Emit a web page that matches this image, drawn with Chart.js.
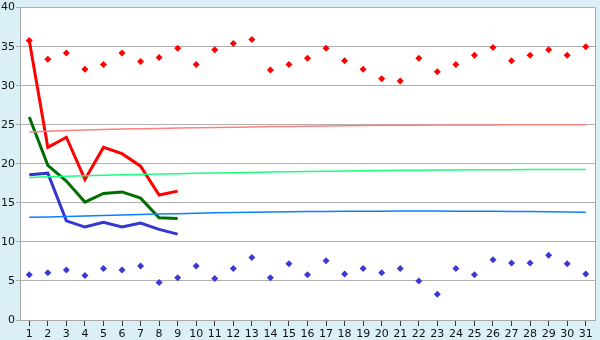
<!DOCTYPE html>
<html>
<head>
<meta charset="utf-8">
<script src="https://cdn.jsdelivr.net/npm/chart.js@4.4.1/dist/chart.umd.min.js"></script>
<style>
  html, body { margin: 0; padding: 0; background: #daeff6; }
  #wrap { width: 600px; height: 340px; }
</style>
</head>
<body>
<div id="wrap"><canvas id="chart" width="600" height="340"></canvas></div>
<script>
// categorias (dias)
const days = ["1","2","3","4","5","6","7","8","9","10","11","12","13","14","15","16",
  "17","18","19","20","21","22","23","24","25","26","27","28","29","30","31"];

// pontos soltos (máximos e mínimos)
const highPoints = [35.8, 33.4, 34.2, 32.1, 32.7, 34.2, 33.1, 33.6, 34.8, 32.7,
  34.6, 35.4, 35.9, 32.0, 32.7, 33.5, 34.8, 33.2, 32.1, 30.9,
  30.6, 33.5, 31.8, 32.7, 33.9, 34.9, 33.2, 33.9, 34.6, 33.9, 35.0];
const lowPoints = [5.8, 6.05, 6.4, 5.7, 6.6, 6.4, 6.9, 4.8, 5.4, 6.9,
  5.3, 6.6, 8.0, 5.4, 7.2, 5.8, 7.6, 5.9, 6.6, 6.05,
  6.6, 5.0, 3.3, 6.6, 5.8, 7.7, 7.3, 7.3, 8.3, 7.2, 5.9];

// linhas grossas (só os primeiros 9 dias)
const redLine = [35.8, 22.1, 23.4, 18.0, 22.1, 21.3, 19.7, 16.0, 16.5];
const greenLine = [26.0, 19.8, 17.8, 15.1, 16.2, 16.4, 15.6, 13.1, 13.0];
const blueLine = [18.6, 18.8, 12.7, 11.9, 12.5, 11.9, 12.4, 11.6, 11.0];

// linhas finas de tendência
const redTrend = [24.08, 24.18, 24.26, 24.33, 24.39, 24.44, 24.49, 24.53, 24.57, 24.61,
  24.65, 24.69, 24.72, 24.76, 24.79, 24.82, 24.85, 24.88, 24.9, 24.92,
  24.94, 24.95, 24.96, 24.97, 24.98, 24.98, 24.99, 24.99, 24.99, 25.0, 25.0];
const greenTrend = [18.25, 18.35, 18.42, 18.48, 18.54, 18.59, 18.64, 18.69, 18.73, 18.78,
  18.82, 18.86, 18.9, 18.94, 18.98, 19.01, 19.04, 19.07, 19.1, 19.13,
  19.16, 19.18, 19.2, 19.22, 19.23, 19.24, 19.25, 19.26, 19.26, 19.27, 19.27];
const blueTrend = [13.17, 13.2, 13.26, 13.32, 13.38, 13.44, 13.5, 13.56, 13.62, 13.67,
  13.72, 13.76, 13.8, 13.83, 13.86, 13.88, 13.9, 13.92, 13.93, 13.94,
  13.95, 13.95, 13.95, 13.94, 13.93, 13.92, 13.9, 13.88, 13.86, 13.83, 13.8];

const yTicks = [0, 5, 10, 15, 20, 25, 30, 35, 40];

// fundo azul claro e área do gráfico branca
const backgroundPlugin = {
  id: "bg",
  beforeDraw(chart) {
    const { ctx, chartArea: a } = chart;
    ctx.save();
    ctx.fillStyle = "#daeff6";
    ctx.fillRect(0, 0, chart.width, chart.height);
    ctx.fillStyle = "#ffffff";
    ctx.fillRect(a.left, a.top, a.right - a.left, a.bottom - a.top);
    ctx.restore();
  },
  afterDraw(chart) {
    const { ctx, chartArea: a } = chart;
    ctx.save();
    ctx.strokeStyle = "#a8a8a8";
    ctx.lineWidth = 1;
    ctx.beginPath();
    ctx.moveTo(a.right + 0.5, a.top);
    ctx.lineTo(a.right + 0.5, a.bottom);
    ctx.stroke();
    ctx.restore();
  },
};

const thick = (data, color) => ({
  data: data,
  borderColor: color,
  backgroundColor: color,
  borderWidth: 3,
  pointRadius: 0,
  tension: 0,
  fill: false,
});

const thin = (data, color) => ({
  data: data,
  borderColor: color,
  backgroundColor: color,
  borderWidth: 1.5,
  pointRadius: 0,
  tension: 0,
  fill: false,
});

const dots = (data, color) => ({
  data: data,
  showLine: false,
  borderColor: color,
  backgroundColor: color,
  pointStyle: "rectRot",
  pointRadius: 3.5,
  pointBorderWidth: 0,
});

const ctx = document.getElementById("chart").getContext("2d");
new Chart(ctx, {
  type: "line",
  data: {
    labels: days,
    datasets: [
      thin(redTrend, "#ff8080"),
      thin(greenTrend, "#1aff80"),
      thin(blueTrend, "#0a80ff"),
      thick(redLine, "#ff0000"),
      thick(greenLine, "#006e00"),
      thick(blueLine, "#3535d0"),
      dots(highPoints, "#ff0000"),
      dots(lowPoints, "#3a3ad0"),
    ],
  },
  options: {
    responsive: false,
    animation: false,
    layout: { padding: { top: 5, right: 5, left: 0, bottom: 0 } },
    plugins: {
      legend: { display: false },
      tooltip: { enabled: false },
    },
    scales: {
      x: {
        offset: true,
        grid: {
          offset: false,
          drawOnChartArea: false,
          drawTicks: true,
          tickLength: 6,
          color: "#333333",
        },
        border: { color: "#a8a8a8" },
        ticks: {
          color: "#111111",
          padding: 2,
          maxRotation: 0,
          autoSkip: false,
          font: { family: "DejaVu Sans", size: 11 },
        },
        afterFit(scale) {
          scale.height = 20;
        },
      },
      y: {
        min: 0,
        max: 40,
        afterBuildTicks(scale) {
          scale.ticks = yTicks.map((v) => ({ value: v }));
        },
        grid: {
          color: "#b0b0b0",
          lineWidth: 1,
          drawTicks: true,
          tickLength: 4,
        },
        border: { color: "#a8a8a8" },
        ticks: {
          color: "#111111",
          padding: 1,
          font: { family: "DejaVu Sans", size: 11 },
        },
        afterFit(scale) {
          scale.width = 20;
        },
      },
    },
  },
  plugins: [backgroundPlugin],
});
</script>
</body>
</html>
